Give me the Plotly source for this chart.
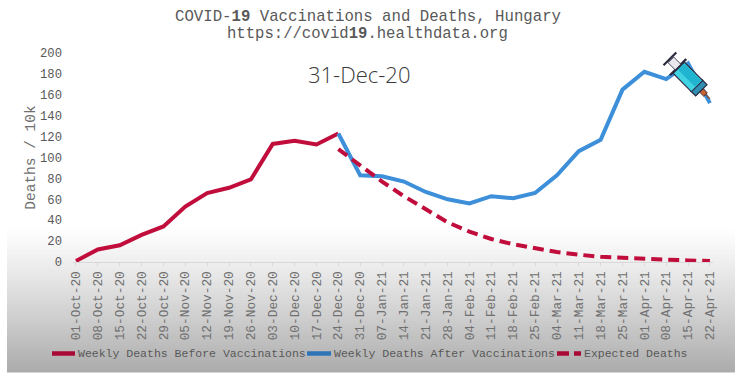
import base64
import plotly.graph_objects as go

dates = ["01-Oct-20","08-Oct-20","15-Oct-20","22-Oct-20","29-Oct-20","05-Nov-20","12-Nov-20","19-Nov-20","26-Nov-20",
         "03-Dec-20","10-Dec-20","17-Dec-20","24-Dec-20","31-Dec-20","07-Jan-21","14-Jan-21","21-Jan-21","28-Jan-21",
         "04-Feb-21","11-Feb-21","18-Feb-21","25-Feb-21","04-Mar-21","11-Mar-21","18-Mar-21","25-Mar-21","01-Apr-21",
         "08-Apr-21","15-Apr-21","22-Apr-21"]
before = [1,12,16,26,34,53,66,71,79,113,116,112.5,123]
after = [123,83,82,77,67,60,56,63,61,66,83,106,117,165,182,175,190,152]
expected = [108,92,77,63,50,38,29,22,17,13,9.5,7,5,4,3,2,1.5,1]
after_dates = dates[12:]
legend_labels = ["Weekly Deaths Before Vaccinations", "Weekly Deaths After Vaccinations", "Expected Deaths"]

W, H = 740, 382
GREY = "#595959"
MONO = "Liberation Mono, monospace"
ML, MR, MT, MB = 73, 27, 53, 120
PW, PH = W - ML - MR, H - MT - MB
px = lambda x: (x - ML) / PW
py = lambda y: 1 - (y - MT) / PH

fig = go.Figure()
fig.add_trace(go.Scatter(x=dates[:13], y=before, mode="lines", name=legend_labels[0],
                         line=dict(color="#C00D3C", width=4), cliponaxis=False))
fig.add_trace(go.Scatter(x=after_dates, y=after, mode="lines", name=legend_labels[1],
                         line=dict(color="#3C8FD8", width=4), cliponaxis=False))
fig.add_trace(go.Scatter(x=after_dates, y=expected, mode="lines", name=legend_labels[2],
                         line=dict(color="#C00D3C", width=4, dash="11px,6px"), cliponaxis=False))

# grey gradient panel behind the lower part of the chart
shapes = []
top, bottom, left, right = 225, 372, 7, 735
steps = 49
for i in range(steps):
    t = i / (steps - 1)
    c = round(255 - (255 - 172) * t ** 1.15)
    y0 = top + (bottom - top) * i / steps
    y1 = top + (bottom - top) * (i + 1) / steps
    shapes.append(dict(type="rect", xref="paper", yref="paper", layer="below", x0=px(left), x1=px(right),
                       y0=py(y1 + 0.5), y1=py(y0), line_width=0, fillcolor=f"rgb({c},{c},{c})"))

# legend keys
for x0, x1, col in [(52, 75, "#A80A35"), (307, 331, "#2E75B6"), (557, 569, "#A80A35"), (574, 581, "#A80A35")]:
    shapes.append(dict(type="line", xref="paper", yref="paper", x0=px(x0), x1=px(x1), y0=py(353.5), y1=py(353.5),
                       line=dict(color=col, width=4.5)))

syringe_svg = """<svg xmlns='http://www.w3.org/2000/svg' viewBox='0 0 60 60' width='60' height='60'>
<g transform='rotate(-45 30 30)'>
<rect x='27.5' y='46' width='5' height='6' fill='#C8622F' stroke='#2b2b40' stroke-width='0.8'/>
<rect x='29.3' y='51' width='1.4' height='7' fill='#8a4a2a'/>
<rect x='22' y='39' width='16' height='7' fill='#2F8FB5' stroke='#2b2b40' stroke-width='1.2'/>
<rect x='22' y='14' width='16' height='26' fill='#3FD3E4' stroke='#2b2b40' stroke-width='1.2'/>
<rect x='28' y='15' width='9' height='24' fill='#21B4D0'/>
<rect x='18.5' y='12' width='23' height='2.4' fill='#2b2b40'/>
<rect x='26' y='3' width='8' height='10' fill='#E8E8EE' stroke='#2b2b40' stroke-width='0.8'/>
<rect x='21' y='0.5' width='18' height='2.2' fill='#2b2b40'/>
</g></svg>"""
syringe_uri = "data:image/svg+xml;base64," + base64.b64encode(syringe_svg.encode()).decode()

def label(text, x, y, size, anchor="center", family=MONO, color=GREY, weight=None):
    return dict(xref="paper", yref="paper", xanchor=anchor, yanchor="middle", showarrow=False, text=text,
                x=px(x), y=py(y), font=dict(family=family, size=size, color=color, weight=weight))

annotations = [
    label("COVID-<b>19</b> Vaccinations and Deaths, Hungary", 367.5, 17, 15.7),
    label("https://covid<b>19</b>.healthdata.org", 367.5, 34, 15.6),
    label("31-Dec-20", 359, 74, 22, family="Open Sans, sans-serif", color="#3A3A3A", weight=300),
    label(legend_labels[0], 76, 353, 11.5, "left"),
    label(legend_labels[1], 332, 353, 11.5, "left"),
    label(legend_labels[2], 582, 353, 11.5, "left"),
]

fig.update_layout(
    width=W, height=H, margin=dict(l=ML, r=MR, t=MT, b=MB, pad=0, autoexpand=False),
    paper_bgcolor="white", plot_bgcolor="rgba(0,0,0,0)", font=dict(family=MONO, color=GREY),
    shapes=shapes, annotations=annotations, showlegend=False,
    images=[dict(source=syringe_uri, xref="paper", yref="paper", xanchor="center", yanchor="middle",
                 x=px(690), y=py(79), sizex=60 / PW, sizey=60 / PH, layer="above")],
    xaxis=dict(type="category", categoryorder="array", categoryarray=dates, range=[-0.137, 29.14], tickmode="array",
               tickvals=dates, ticktext=dates, tickangle=-90, tickfont=dict(size=12.8, color="#707070"),
               showgrid=False, showline=True, linecolor="#D9D9D9", linewidth=1.2, ticks="outside", ticklen=3,
               tickcolor="#D9D9D9", zeroline=False),
    yaxis=dict(range=[0, 200], dtick=20, tickfont=dict(size=12.2, color="#595959"), showgrid=False,
               showline=False, zeroline=False, ticks="", ticklabelstandoff=10,
               title=dict(text="Deaths / 10k", font=dict(size=14.5, color="#707070"), standoff=0)),
)
fig.write_html("out.html", config=dict(displayModeBar=False), post_script="document.body.style.margin='0';")
